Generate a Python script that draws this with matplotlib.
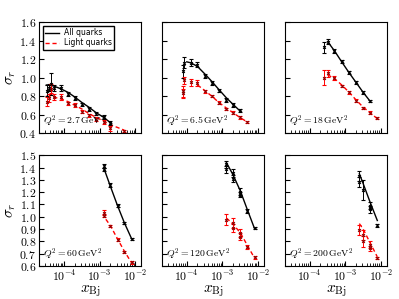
import matplotlib
matplotlib.use('Agg')
import matplotlib.pyplot as plt

plt.rcParams['mathtext.fontset'] = 'cm'
plt.rcParams['font.family'] = 'serif'
plt.rcParams['font.serif'] = ['cmr10']
plt.rcParams['axes.formatter.use_mathtext'] = True

# Q^2 bins
q2_labels = ['2.7', '6.5', '18', '60', '120', '200']

# data points: all quarks (black)
x_all = [
    [3.3e-5, 3.9e-5, 4.4e-5, 5.2e-5, 8e-5, 1.3e-4, 2e-4, 3.2e-4, 5e-4, 8e-4, 1.3e-3, 2e-3],
    [7.6e-5, 8.4e-5, 1.3e-4, 2e-4, 3.2e-4, 5e-4, 8e-4, 1.3e-3, 2e-3, 3.2e-3],
    [2.6e-4, 3.2e-4, 5e-4, 8e-4, 1.3e-3, 2e-3, 3.2e-3, 5e-3],
    [1.3e-3, 1.3e-3, 2e-3, 3.2e-3, 5e-3, 8e-3],
    [1.3e-3, 1.3e-3, 2e-3, 2e-3, 3.2e-3, 3.2e-3, 5e-3, 8e-3],
    [2.5e-3, 2.5e-3, 3.2e-3, 5e-3, 5e-3, 8e-3],
]
sig_all = [
    [0.86, 0.89, 0.93, 0.89, 0.89, 0.82, 0.78, 0.71, 0.66, 0.61, 0.57, 0.51],
    [1.07, 1.16, 1.16, 1.14, 1.02, 0.94, 0.86, 0.76, 0.70, 0.645],
    [1.33, 1.39, 1.285, 1.175, 1.055, 0.95, 0.84, 0.75],
    [1.415, 1.385, 1.26, 1.09, 0.95, 0.82],
    [1.425, 1.385, 1.355, 1.31, 1.205, 1.18, 1.05, 0.91],
    [1.33, 1.285, 1.22, 1.09, 1.06, 0.93],
]
err_all = [
    [0.06, 0.04, 0.12, 0.03, 0.03, 0.02, 0.02, 0.015, 0.02, 0.02, 0.02, 0.02],
    [0.07, 0.06, 0.04, 0.03, 0.02, 0.02, 0.02, 0.02, 0.02, 0.015],
    [0.06, 0.03, 0.02, 0.02, 0.02, 0.015, 0.015, 0.01],
    [0.015, 0.015, 0.015, 0.012, 0.012, 0.012],
    [0.03, 0.03, 0.03, 0.03, 0.025, 0.02, 0.015, 0.01],
    [0.04, 0.04, 0.08, 0.03, 0.03, 0.01],
]

# data points: light quarks (red)
x_light = [
    [3.3e-5, 3.9e-5, 4.4e-5, 5.2e-5, 8e-5, 1.3e-4, 2e-4, 3.2e-4, 5e-4, 8e-4, 1.3e-3, 2e-3, 5e-3],
    [7.6e-5, 8e-5, 8.4e-5, 1.3e-4, 2e-4, 3.2e-4, 5e-4, 8e-4, 1.3e-3, 2e-3, 3.2e-3, 5e-3],
    [2.6e-4, 3.2e-4, 5e-4, 8e-4, 1.3e-3, 2e-3, 3.2e-3, 5e-3, 8e-3],
    [1.3e-3, 1.3e-3, 2e-3, 3.2e-3, 5e-3, 8e-3],
    [1.3e-3, 2e-3, 2e-3, 3.2e-3, 3.2e-3, 5e-3, 8e-3],
    [2.5e-3, 3.2e-3, 3.2e-3, 5e-3, 5e-3, 8e-3],
]
sig_light = [
    [0.74, 0.78, 0.88, 0.79, 0.79, 0.72, 0.70, 0.63, 0.59, 0.55, 0.52, 0.45, 0.42],
    [0.85, 0.83, 0.97, 0.95, 0.94, 0.85, 0.80, 0.73, 0.66, 0.62, 0.57, 0.52],
    [1.0, 1.045, 0.995, 0.91, 0.84, 0.75, 0.67, 0.62, 0.56],
    [1.035, 1.01, 0.925, 0.815, 0.715, 0.63],
    [0.975, 0.95, 0.91, 0.87, 0.84, 0.755, 0.67],
    [0.89, 0.85, 0.80, 0.775, 0.745, 0.665],
]
err_light = [
    [0.05, 0.04, 0.05, 0.03, 0.03, 0.02, 0.02, 0.015, 0.02, 0.02, 0.02, 0.03, 0.01],
    [0.06, 0.05, 0.04, 0.04, 0.03, 0.015, 0.015, 0.015, 0.015, 0.015, 0.015, 0.015],
    [0.08, 0.04, 0.02, 0.015, 0.015, 0.015, 0.015, 0.015, 0.01],
    [0.02, 0.015, 0.01, 0.01, 0.01, 0.01],
    [0.045, 0.04, 0.035, 0.03, 0.03, 0.02, 0.01],
    [0.04, 0.04, 0.045, 0.025, 0.02, 0.01],
]

# model curves
xc_all = [
    [3.2e-5, 5e-5, 8e-5, 1.3e-4, 2e-4, 3.2e-4, 5e-4, 8e-4, 1.3e-3, 2.2e-3],
    [1e-4, 1.3e-4, 2e-4, 3.2e-4, 5e-4, 8e-4, 1.3e-3, 2e-3, 3.2e-3],
    [3.2e-4, 5e-4, 8e-4, 1.3e-3, 2e-3, 3.2e-3, 5e-3],
    [1.3e-3, 2e-3, 3.2e-3, 5e-3, 8e-3],
    [1.3e-3, 2e-3, 3.2e-3, 5e-3, 8e-3],
    [2.5e-3, 3.2e-3, 5e-3, 8e-3],
]
yc_all = [
    [0.92, 0.91, 0.88, 0.84, 0.79, 0.73, 0.68, 0.62, 0.57, 0.50],
    [1.17, 1.16, 1.12, 1.04, 0.96, 0.87, 0.78, 0.71, 0.635],
    [1.39, 1.29, 1.17, 1.05, 0.95, 0.84, 0.745],
    [1.40, 1.25, 1.09, 0.95, 0.82],
    [1.44, 1.34, 1.21, 1.06, 0.905],
    [1.35, 1.27, 1.12, 0.97],
]
xc_light = [
    [3.2e-5, 5e-5, 8e-5, 1.3e-4, 2e-4, 3.2e-4, 5e-4, 8e-4, 1.3e-3, 2e-3, 3.2e-3, 5e-3],
    [2e-4, 3.2e-4, 5e-4, 8e-4, 1.3e-3, 2e-3, 3.2e-3, 5e-3],
    [3.2e-4, 5e-4, 8e-4, 1.3e-3, 2e-3, 3.2e-3, 5e-3, 8e-3],
    [1.5e-3, 2e-3, 3.2e-3, 5e-3, 8e-3],
    [1.3e-3, 2e-3, 3.2e-3, 5e-3, 8e-3],
    [2.5e-3, 3.2e-3, 5e-3, 8e-3],
]
yc_light = [
    [0.80, 0.79, 0.77, 0.74, 0.70, 0.66, 0.61, 0.57, 0.53, 0.49, 0.46, 0.43],
    [0.92, 0.86, 0.80, 0.73, 0.67, 0.62, 0.565, 0.52],
    [1.03, 0.99, 0.92, 0.84, 0.76, 0.68, 0.62, 0.555],
    [0.98, 0.93, 0.82, 0.72, 0.625],
    [0.99, 0.94, 0.87, 0.77, 0.665],
    [0.945, 0.90, 0.79, 0.675],
]

fig, axes = plt.subplots(2, 3, figsize=(3.99, 2.99), dpi=100, sharex=True, sharey='row')
fig.subplots_adjust(left=0.098, right=0.97, top=0.926, bottom=0.11, wspace=0.2, hspace=0.2)

for i, ax in enumerate(axes.flat):
    ax.plot(xc_all[i], yc_all[i], color='black', lw=1.0, label='All quarks')
    ax.plot(xc_light[i], yc_light[i], color='red', lw=1.0, ls='--', dashes=(3, 2), label='Light quarks')
    ax.errorbar(x_all[i], sig_all[i], yerr=err_all[i], fmt='x', color='black',
                ms=2, mew=0.8, elinewidth=0.7, capsize=1.5, capthick=0.7)
    ax.errorbar(x_light[i], sig_light[i], yerr=err_light[i], fmt='x', color='red', mec='#8b0000',
                ms=2, mew=0.8, elinewidth=0.7, capsize=1.5, capthick=0.7)
    ax.set_xscale('log')
    ax.set_xlim(2e-5, 1.5e-2)
    ax.text(0.04, 0.04, r'$Q^2 = %s\,\mathrm{GeV}^2$' % q2_labels[i], transform=ax.transAxes,
            fontsize=7, ha='left', va='bottom')
    ax.tick_params(which='both', direction='in', labelsize=8.5, pad=2)
    ax.tick_params(which='major', length=3.5)
    ax.tick_params(which='minor', length=2)

axes[0, 0].set_ylim(0.4, 1.6)
axes[0, 0].set_yticks([0.4, 0.6, 0.8, 1.0, 1.2, 1.4, 1.6])
axes[1, 0].set_ylim(0.6, 1.5)
axes[1, 0].set_yticks([0.6, 0.7, 0.8, 0.9, 1.0, 1.1, 1.2, 1.3, 1.4, 1.5])
axes[1, 0].set_xticks([1e-4, 1e-3, 1e-2])

for ax in axes[:, 0]:
    ax.set_ylabel(r'$\sigma_r$', fontsize=11, labelpad=1)
for ax in axes[1, :]:
    ax.set_xlabel(r'$x_{\rm Bj}$', fontsize=11, labelpad=0)

axes[0, 0].legend(loc='upper left', prop={'family': 'DejaVu Sans', 'size': 5.5},
                  handlelength=1.8, fancybox=False, edgecolor='black', framealpha=1,
                  borderpad=0.3, labelspacing=0.15, handletextpad=0.6)

plt.savefig('out.png', dpi=100)
